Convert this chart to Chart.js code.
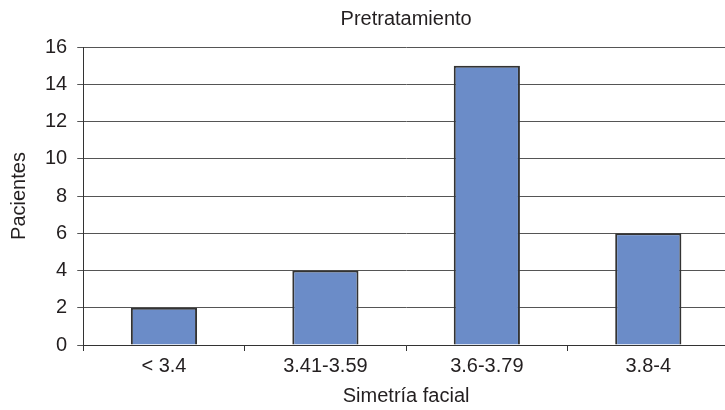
<!DOCTYPE html>
<html>
<head>
<meta charset="utf-8">
<script src="https://cdn.jsdelivr.net/npm/chart.js@4.4.1/dist/chart.umd.min.js"></script>
<style>
  html, body { margin: 0; padding: 0; background: #fff; overflow: hidden; }
  #wrap { width: 732px; height: 410px; }
</style>
</head>
<body>
<div id="wrap"><canvas id="c" width="732" height="410"></canvas></div>
<script>
// Distribution of patients by facial symmetry score, before treatment
const categories = ['< 3.4', '3.41-3.59', '3.6-3.79', '3.8-4'];
const pacientes = [2, 4, 15, 6];
const yTicks = [0, 2, 4, 6, 8, 10, 12, 14, 16];
const chartTitle = 'Pretratamiento';

const FONT = "'Liberation Sans', Arial, Helvetica, sans-serif";
const INK = '#231f20';
const SIZE = 20;

// Title centred over the plotting area
const plotTitle = {
  id: 'plotTitle',
  afterDraw(chart) {
    const { ctx, chartArea } = chart;
    ctx.save();
    ctx.fillStyle = INK;
    ctx.font = `${SIZE}px ${FONT}`;
    ctx.textAlign = 'center';
    ctx.textBaseline = 'middle';
    ctx.fillText(chartTitle, (chartArea.left + chartArea.right) / 2, 19);
    ctx.restore();
  }
};

new Chart(document.getElementById('c'), {
  type: 'bar',
  data: {
    labels: categories,
    datasets: [{
      data: pacientes,
      backgroundColor: '#6b8cc8',
      borderColor: '#333333',
      borderWidth: 2,
      barPercentage: 0.41,
      categoryPercentage: 1.0
    }]
  },
  plugins: [plotTitle],
  options: {
    responsive: false,
    animation: false,
    layout: { padding: { top: 47, right: 3, bottom: 2, left: 7 } },
    plugins: {
      legend: { display: false },
      tooltip: { enabled: false },
      title: { display: false }
    },
    scales: {
      x: {
        grid: {
          offset: true,
          drawOnChartArea: false,
          drawTicks: true,
          tickLength: 6,
          color: '#333333'
        },
        border: { display: true, color: '#333333', width: 1 },
        ticks: {
          color: INK,
          font: { family: FONT, size: SIZE },
          padding: 3
        },
        title: {
          display: true,
          text: 'Simetría facial',
          color: INK,
          font: { family: FONT, size: SIZE },
          padding: { top: 3, bottom: 0 }
        }
      },
      y: {
        min: 0,
        max: 16,
        afterBuildTicks: (axis) => { axis.ticks = yTicks.map(v => ({ value: v })); },
        grid: {
          color: '#555555',
          lineWidth: 1,
          tickLength: 6
        },
        border: { display: true, color: '#333333', width: 1 },
        ticks: {
          color: INK,
          font: { family: FONT, size: SIZE },
          padding: 10
        },
        title: {
          display: true,
          text: 'Pacientes',
          color: INK,
          font: { family: FONT, size: SIZE },
          padding: { top: 0, bottom: 4 }
        }
      }
    }
  }
});
</script>
</body>
</html>
